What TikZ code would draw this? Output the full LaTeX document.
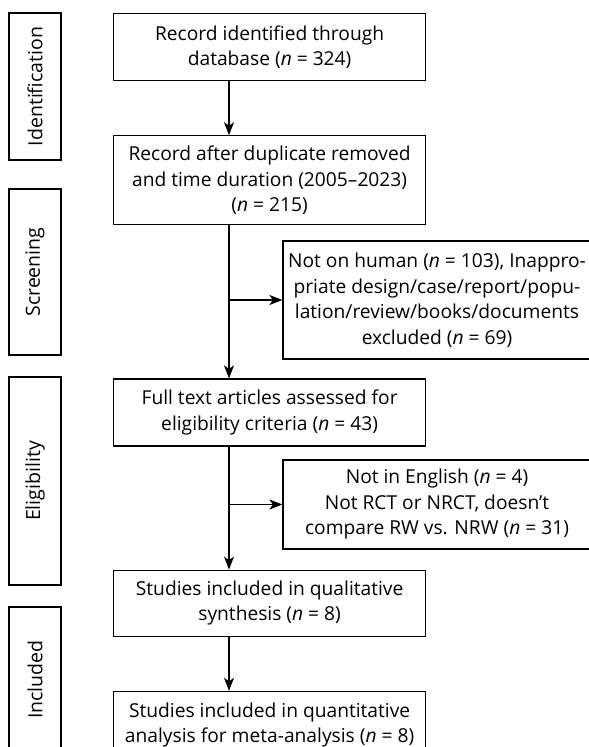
\documentclass[tikz,border=0pt]{standalone}
\usepackage{fontspec}
\setmainfont{Open Sans}
\usetikzlibrary{arrows.meta,positioning}

\begin{document}
\begin{tikzpicture}[x=1pt,y=-1pt,->,>={Stealth[length=13pt,width=10pt,inset=3.5pt]},
  line width=1.2pt,font=\fontsize{19.2}{25.5}\selectfont,
  main box/.style={draw,rectangle,minimum width=312pt,align=center,inner sep=2pt},
  note box/.style={draw,rectangle,minimum width=308pt,align=center,inner sep=2pt},
  stage box/.style={draw,rectangle,rotate=90,minimum height=52pt,inner sep=0pt,
    font=\fontsize{19.5}{24}\selectfont}]

  \useasboundingbox (0,0) rectangle (589,747);
  \clip (0,0) rectangle (589,747);

  % stages on the left
  \node[stage box,minimum width=147pt] (identification) at (35,86.5) {Identification};
  \node[stage box,minimum width=166pt] (screening) at (35,272) {Screening};
  \node[stage box,minimum width=208pt] (eligibility) at (35,481) {Eligibility};
  \node[stage box,minimum width=145pt] (included) at (35,679.5) {Included};

  % main column
  \node[main box,minimum height=67pt,anchor=north west] (records) at (113,13)
    {Record identified through\\database (\textit{n} = 324)};
  \node[main box,minimum height=89pt,below=54pt of records] (screened)
    {Record after duplicate removed\\and time duration (2005--2023)\\(\textit{n} = 215)};
  \node[main box,minimum height=67pt,below=153pt of screened] (fulltext)
    {Full text articles assessed for\\eligibility criteria (\textit{n} = 43)};
  \node[main box,minimum height=66pt,below=123pt of fulltext] (qualitative)
    {Studies included in qualitative\\synthesis (\textit{n} = 8)};
  \node[main box,minimum height=67pt,below=54pt of qualitative] (quantitative)
    {Studies included in quantitative\\analysis for meta-analysis (\textit{n} = 8)};

  % exclusions on the right
  \node[note box,minimum height=118pt] (excluded) at (437,300)
    {Not on human (\textit{n} = 103), Inappro-\\priate design/case/report/popu-\\lation/review/books/documents\\excluded (\textit{n} = 69)};
  \node[note box,minimum height=89pt] (notenglish) at (437,504.5)
    {Not in English (\textit{n} = 4)\\Not RCT or NRCT, doesn't\\compare RW vs. NRW (\textit{n} = 31)};

  \coordinate (spine) at (229,0);

  \draw (records.south -| spine) -- (screened.north -| spine);
  \draw (screened.south -| spine) -- (fulltext.north -| spine);
  \draw (fulltext.south -| spine) -- (qualitative.north -| spine);
  \draw (qualitative.south -| spine) -- (quantitative.north -| spine);
  \draw (excluded.west -| spine) -- (excluded.west);
  \draw (notenglish.west -| spine) -- (notenglish.west);
\end{tikzpicture}
\end{document}
